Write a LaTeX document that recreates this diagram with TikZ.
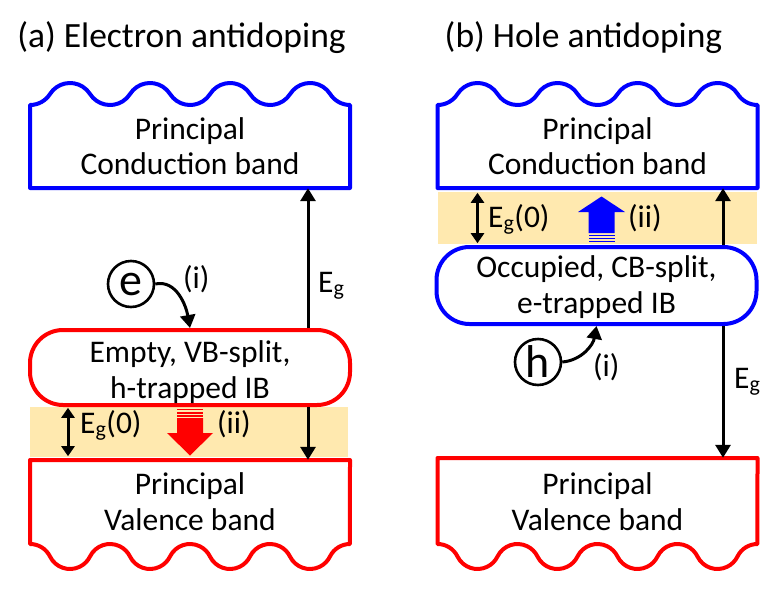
\documentclass[tikz,border=0pt]{standalone}
\usepackage{fontspec}
\setmainfont{Carlito}
\usetikzlibrary{arrows.meta}
\definecolor{bandblue}{RGB}{0,0,255}
\definecolor{bandred}{RGB}{255,0,0}
\definecolor{gapyellow}{RGB}{255,233,175}
\tikzset{
  txt/.style={font=\fontsize{31.5}{35.5}\selectfont, align=center, inner sep=0pt},
  ttl/.style={font=\fontsize{35.5}{40}\selectfont, inner sep=0pt, anchor=base},
  bandline/.style={line width=4pt, line join=round},
  bandframe/.style={minimum width=320pt, inner sep=0pt, draw=none},
  ibbox/.style={line width=4pt, rounded corners=33pt, minimum width=320pt, inner sep=0pt},
  arr/.style={line width=3pt, -{Triangle[width=15pt,length=13pt]}},
  darr/.style={line width=3pt, {Triangle[width=13pt,length=10pt]}-{Triangle[width=13pt,length=10pt]}, shorten <=1pt, shorten >=1pt},
  carrier/.style={circle, draw, line width=2.6pt, minimum size=46pt, inner sep=0pt, font=\fontsize{46}{46}\selectfont},
  gapband/.style={fill=gapyellow, draw=none, inner sep=0pt},
  % wave pieces of the conduction-band top (r = 23.7, half angle 57.6)
  cbbump/.style={},
}
\begin{document}
\begin{tikzpicture}[x=1pt,y=-1pt]
\useasboundingbox (0,0) rectangle (780,590);

% titles
\node[ttl] (titleA) at (181.5,47) {(a) Electron antidoping};
\node[ttl] (titleB) at (583.5,47) {(b) Hole antidoping};

% yellow gap bands
\node[gapband, minimum width=318pt, minimum height=50pt] (gapL) at (189,432) {};
\node[gapband, minimum width=319pt, minimum height=52pt] (gapR) at (597.5,218) {};

% ---------- (a) left panel ----------
\node[bandframe, minimum height=83pt] (cbL) at (190,146.5) {};
\draw[bandline, bandblue] (30,188) -- (30,105)
  arc[start angle=90, end angle=32.4, radius=23.7]
  \foreach \k in {1,2,3} {
    arc[start angle=-147.6, end angle=-32.4, radius=23.7]
    arc[start angle=147.6, end angle=32.4, radius=23.7]
  }
  arc[start angle=-147.6, end angle=-32.4, radius=23.7]
  arc[start angle=147.6, end angle=90, radius=23.7]
  -- (350,188) -- cycle;
\node[txt, anchor=base] (cbLt) at (190,174.5) {Principal\\Conduction band};

\node[draw=bandred, ibbox, minimum height=75pt] (ibL) at (190,367.5) {};
\node[txt, anchor=base] (ibLt) at (190,398) {Empty, VB-split,\\h-trapped IB};

\node[bandframe, minimum height=84pt] (vbL) at (190,502) {};
\draw[bandline, bandred] (30,460) -- (30,544)
  arc[start angle=-90, end angle=-26, radius=22.25]
  \foreach \k in {1,2,3} {
    arc[start angle=154, end angle=26, radius=22.25]
    arc[start angle=-154, end angle=-26, radius=22.25]
  }
  arc[start angle=154, end angle=26, radius=22.25]
  arc[start angle=-154, end angle=-90, radius=22.25]
  -- (350,460) -- cycle;
\node[txt, anchor=base] (vbLt) at (190,530) {Principal\\Valence band};

% red striped block arrow (ii)
\fill[bandred] (177,418.2) -- (203,418.2) -- (203,433) -- (213,433) -- (190,455.5) -- (167,433) -- (177,433) -- cycle;
\fill[bandred] (177,408.5) rectangle (203,410.3);
\fill[bandred] (177,411.8) rectangle (203,413.6);
\fill[bandred] (177,415.1) rectangle (203,416.9);

% electron
\node[carrier] (eL) at (131,284) {e};
\draw[arr] (eL.east) to[out=12, in=100] (ibL.north);
\node[txt, anchor=base west] (iL) at (183,288) {(i)};

% Eg arrows left
\coordinate (egLx) at (308,0);
\draw[arr] (ibL.north -| egLx) -- (cbL.south -| egLx);
\draw[arr] (ibL.south -| egLx) -- (vbL.north -| egLx);
\node[txt, anchor=base west] (egLt) at (318,292) {E\textsubscript{g}};

% Eg(0) left
\coordinate (dLx) at (68,0);
\draw[darr] (gapL.north -| dLx) -- (gapL.south -| dLx);
\node[txt, anchor=base west] (eg0L) at (80,433) {E\textsubscript{g}(0)};
\node[txt, anchor=base west] (iiL) at (217,433) {(ii)};

% ---------- (b) right panel ----------
\node[bandframe, minimum height=83pt] (cbR) at (597.5,146.5) {};
\draw[bandline, bandblue] (437.5,188) -- (437.5,105)
  arc[start angle=90, end angle=32.4, radius=23.7]
  \foreach \k in {1,2,3} {
    arc[start angle=-147.6, end angle=-32.4, radius=23.7]
    arc[start angle=147.6, end angle=32.4, radius=23.7]
  }
  arc[start angle=-147.6, end angle=-32.4, radius=23.7]
  arc[start angle=147.6, end angle=90, radius=23.7]
  -- (757.5,188) -- cycle;
\node[txt, anchor=base] (cbRt) at (597.5,174.5) {Principal\\Conduction band};

\node[draw=bandblue, ibbox, minimum height=77pt] (ibR) at (596.5,285.5) {};
\node[txt, anchor=base] (ibRt) at (596.5,313) {Occupied, CB-split,\\e-trapped IB};

\node[bandframe, minimum height=86pt] (vbR) at (597.5,501) {};
\draw[bandline, bandred] (437.5,458) -- (437.5,544)
  arc[start angle=-90, end angle=-26, radius=22.25]
  \foreach \k in {1,2,3} {
    arc[start angle=154, end angle=26, radius=22.25]
    arc[start angle=-154, end angle=-26, radius=22.25]
  }
  arc[start angle=154, end angle=26, radius=22.25]
  arc[start angle=-154, end angle=-90, radius=22.25]
  -- (757.5,458) -- cycle;
\node[txt, anchor=base] (vbRt) at (597.5,530) {Principal\\Valence band};

% blue striped block arrow (ii)
\fill[bandblue] (588.5,233) -- (614.5,233) -- (614.5,212) -- (625,212) -- (601.5,196.5) -- (578,212) -- (588.5,212) -- cycle;
\fill[bandblue] (588.5,234.6) rectangle (614.5,236.2);
\fill[bandblue] (588.5,237.6) rectangle (614.5,239.2);
\fill[bandblue] (588.5,240.6) rectangle (614.5,242.2);

% hole
\node[carrier] (hR) at (538,362) {h};
\draw[arr] (hR.east) to[out=5, in=-100] (ibR.south);
\node[txt, anchor=base west] (iR) at (593,376) {(i)};

% Eg arrows right
\coordinate (egRx) at (723,0);
\draw[arr] (ibR.north -| egRx) -- (cbR.south -| egRx);
\draw[arr] (ibR.south -| egRx) -- (vbR.north -| egRx);
\node[txt, anchor=base west] (egRt) at (734,388) {E\textsubscript{g}};

% Eg(0) right
\coordinate (dRx) at (477.5,0);
\draw[darr] (gapR.north -| dRx) -- (gapR.south -| dRx);
\node[txt, anchor=base west] (eg0R) at (488,227) {E\textsubscript{g}(0)};
\node[txt, anchor=base west] (iiR) at (628,227) {(ii)};
\end{tikzpicture}
\end{document}
